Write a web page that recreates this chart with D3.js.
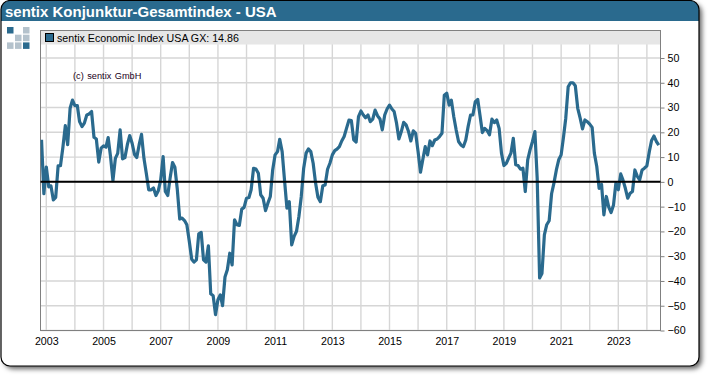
<!DOCTYPE html>
<html>
<head>
<meta charset="utf-8">
<script src="https://cdn.jsdelivr.net/npm/d3@7"></script>
<style>
  html, body { margin: 0; padding: 0; background: #fff; }
  svg { display: block; font-family: "Liberation Sans", Arial, sans-serif; }
</style>
</head>
<body>
<script>
// monthly values, first one is Nov 2002, last one is Jun 2024
const y2002 = [17, -4.8];
const y2003 = [6, -2, -1.6, -7.3, -6.3, 6.5, 6.5, 14, 22.7, 15, 29.7, 33];
const y2004 = [30.8, 30.8, 24.3, 22.3, 23.7, 27, 27.4, 28.4, 18, 17.3, 8, 13.6];
const y2005 = [14.5, 14, 17.9, 10, 0.5, 9.5, 11.5, 21, 9.3, 9.8, 15, 18.7];
const y2006 = [15.6, 11, 9.8, 15, 19.2, 9.5, 3.5, -3.2, -3.2, -2.5, -5.5, -3.6];
const y2007 = [0.8, 10.2, -3.9, -5.5, 1.5, 7.8, 5.9, -3, -15, -14.6, -15.6, -17.3];
const y2008 = [-24, -31.2, -32.4, -31.5, -21, -20.4, -31.5, -32.4, -25.8, -45.2, -46, -53.6];
const y2009 = [-47.6, -45.6, -50, -38.4, -35.5, -28.8, -33.5, -15.3, -17.3, -17.6, -11, -10.3];
const y2010 = [-6.6, -6.3, -3.2, 5.5, 5.2, 3.5, -5.2, -6.6, -11.6, -8.6, -5.9, 4.8];
const y2011 = [10.9, 12.2, 17.2, 12.2, 0.8, -10.6, -8, -25.4, -22, -20, -14, -6];
const y2012 = [5.5, 11.6, 13.3, 12.2, 7.5, -0.5, -6.2, -8, -1.6, -1.3, 5.1, 7.5];
const y2013 = [10.9, 12.6, 13.2, 14.2, 16.5, 18.3, 21.6, 24.9, 24.7, 17, 16.1, 26.3];
const y2014 = [28.6, 27, 25.9, 27, 24.3, 25.3, 29, 26.7, 25.4, 21, 27, 29.4];
const y2015 = [31, 29.4, 28.4, 23.7, 17.3, 20.3, 24, 23, 20.3, 16.5, 20.6, 19.6];
const y2016 = [12.2, 3.9, 8.9, 14.2, 10.9, 16.5, 14.6, 16.9, 17.3, 18.3, 19.6, 35];
const y2017 = [35.8, 31, 33, 26.3, 21, 16.3, 14.9, 14.2, 16.9, 22.3, 27, 27];
const y2018 = [32.4, 33.3, 27, 19.9, 21.6, 20.7, 19, 25.3, 23.9, 25, 21.6, 11.6];
const y2019 = [6.6, 7.5, 9.5, 11.6, 17.6, 6.9, 6.6, 5.1, 5.5, -3.9, 8.9, 12.9];
const y2020 = [16.3, 20.3, 1.5, -38.8, -37, -21.4, -17.3, -15.7, -4.8, -0.5, 4.8, 8.9];
const y2021 = [10.9, 18.3, 25.7, 38.4, 40, 40, 38.8, 29.7, 25.7, 21.4, 25, 24.3];
const y2022 = [23.3, 22, 11.6, 6.2, -2.6, -1, -13.3, -5.9, -10.2, -12.4, -9.3, -0.5];
const y2023 = [-3.2, 3.2, 0.8, -2.6, -6.6, -4.6, -3.9, 4.8, 2.2, 0.8, 4.8, 5.5];
const y2024 = [6.5, 12.2, 16.7, 18.5, 16.3, 14.86];

const yTicks = [-60, -50, -40, -30, -20, -10, 0, 10, 20, 30, 40, 50];
const titleText = "sentix Konjunktur-Gesamtindex - USA";
const legendText = "sentix Economic Index USA GX: 14.86";
const creditText = "(c) sentix GmbH";

const values = [].concat(y2002, y2003, y2004, y2005, y2006, y2007, y2008, y2009, y2010, y2011,
    y2012, y2013, y2014, y2015, y2016, y2017, y2018, y2019, y2020, y2021, y2022, y2023, y2024);

const dates = d3.utcMonth.range(new Date(Date.UTC(2002, 10, 1)), new Date(Date.UTC(2024, 6, 1)));
const data = values.map((v, i) => ({date: dates[i], value: v}));

const outerWidth = 710;
const outerHeight = 376;
const blue = "#2a6a8e";

const plot = {left: 40.5, right: 660.5, top: 30.5, bottom: 330.5};

// card outline, it starts right at the top of the page
const card = {x: 1, y: 0.5, width: 698, height: 365.5, rx: 9};

const xRef = d3.scaleTime()
    .domain([new Date(Date.UTC(2003, 0, 1)), new Date(Date.UTC(2023, 0, 1))])
    .range([46.3, 618.3]);

const xScale = d3.scaleTime()
    .domain([xRef.invert(plot.left), xRef.invert(plot.right)])
    .range([plot.left, plot.right]);

const yScale = d3.scaleLinear()
    .domain([-60, 50])
    .range([plot.bottom, 58]);

const svg = d3.select("body").append("svg")
    .attr("width", outerWidth)
    .attr("height", outerHeight);

const defs = svg.append("defs");
defs.append("filter").attr("id", "shadow")
    .attr("x", "-5%").attr("y", "-5%").attr("width", "110%").attr("height", "110%")
    .append("feDropShadow")
    .attr("dx", 3).attr("dy", 3).attr("stdDeviation", 2.5)
    .attr("flood-color", "#000").attr("flood-opacity", 0.6);
defs.append("clipPath").attr("id", "plot-clip")
    .append("rect")
    .attr("x", plot.left).attr("y", plot.top)
    .attr("width", plot.right - plot.left).attr("height", plot.bottom - plot.top);
defs.append("clipPath").attr("id", "card-clip")
    .append("rect")
    .attr("x", card.x).attr("y", card.y).attr("width", card.width).attr("height", card.height).attr("rx", card.rx);

// the card
svg.append("rect")
    .attr("x", card.x).attr("y", card.y).attr("width", card.width).attr("height", card.height).attr("rx", card.rx)
    .attr("fill", "#fff")
    .attr("filter", "url(#shadow)");

svg.append("rect")
    .attr("clip-path", "url(#card-clip)")
    .attr("x", 0).attr("y", 0).attr("width", 700).attr("height", 21)
    .attr("fill", blue);

svg.append("rect")
    .attr("x", card.x).attr("y", card.y).attr("width", card.width).attr("height", card.height).attr("rx", card.rx)
    .attr("fill", "none")
    .attr("stroke", "#000")
    .attr("stroke-width", 1.2);

svg.append("text")
    .attr("x", 5).attr("y", 17)
    .attr("fill", "#fff")
    .attr("font-size", 15)
    .attr("font-weight", "bold")
    .text(titleText);

// logo squares
const logoCells = [[0, 0, blue], [2, 0, "#b4c2cc"], [1, 1, "#b4c2cc"], [2, 1, "#b4c2cc"],
                   [0, 2, "#b4c2cc"], [1, 2, "#b4c2cc"], [2, 2, blue]];
svg.append("g").selectAll("rect")
    .data(logoCells)
    .join("rect")
    .attr("x", d => 7 + d[0] * 8)
    .attr("y", d => 27 + d[1] * 7.7)
    .attr("width", 6.5).attr("height", 6.5)
    .attr("fill", d => d[2]);

// grid
const years = d3.utcYear.range(new Date(Date.UTC(2003, 0, 1)), new Date(Date.UTC(2025, 0, 1)));

svg.append("g").selectAll("line")
    .data(years)
    .join("line")
    .attr("x1", d => xScale(d)).attr("x2", d => xScale(d))
    .attr("y1", plot.top).attr("y2", plot.bottom)
    .attr("stroke", "#d6d6d6").attr("stroke-width", 1.4);

svg.append("g").selectAll("line")
    .data(yTicks)
    .join("line")
    .attr("x1", plot.left).attr("x2", plot.right)
    .attr("y1", d => yScale(d)).attr("y2", d => yScale(d))
    .attr("stroke", "#d6d6d6").attr("stroke-width", 1.4);

// legend band on top of the grid
svg.append("rect")
    .attr("x", plot.left).attr("y", plot.top)
    .attr("width", plot.right - plot.left).attr("height", 14)
    .attr("fill", "#e6e6e6");

svg.append("rect")
    .attr("x", 45.5).attr("y", 33.5)
    .attr("width", 8).attr("height", 8)
    .attr("fill", blue)
    .attr("stroke", "#000");

svg.append("text")
    .attr("x", 57).attr("y", 42)
    .attr("font-size", 10.67)
    .attr("fill", "#000")
    .text(legendText);

svg.append("text")
    .attr("x", 73).attr("y", 79)
    .attr("font-size", 9.2)
    .attr("fill", "#200020")
    .attr("word-spacing", 1)
    .text(creditText);

// plot frame, left / top / right / bottom
svg.append("rect")
    .attr("x", plot.left).attr("y", plot.top)
    .attr("width", plot.right - plot.left).attr("height", plot.bottom - plot.top)
    .attr("fill", "none")
    .attr("stroke", "#808080");

// axes
const xAxis = d3.axisBottom(xScale)
    .tickValues(years.filter(d => d.getUTCFullYear() % 2 == 1 && d.getUTCFullYear() <= 2023))
    .tickFormat(d3.utcFormat("%Y"))
    .tickSize(0)
    .tickPadding(7);

const yAxis = d3.axisRight(yScale)
    .tickValues(yTicks)
    .tickSize(4)
    .tickPadding(3);

const xG = svg.append("g")
    .attr("transform", `translate(0,${plot.bottom})`)
    .call(xAxis);

const yG = svg.append("g")
    .attr("transform", `translate(${plot.right},0)`)
    .call(yAxis);

xG.select(".domain").remove();
yG.select(".domain").remove();
yG.selectAll("line").attr("stroke", "#808080");
svg.selectAll(".tick text")
    .attr("font-family", "Liberation Sans, Arial, sans-serif")
    .attr("font-size", 10.67)
    .attr("fill", "#000");

// the index line, then the zero line over it
const line = d3.line()
    .x(d => xScale(d.date))
    .y(d => yScale(d.value));

svg.append("path")
    .datum(data)
    .attr("clip-path", "url(#plot-clip)")
    .attr("fill", "none")
    .attr("stroke", blue)
    .attr("stroke-width", 3.2)
    .attr("stroke-linejoin", "round")
    .attr("d", line);

svg.append("line")
    .attr("x1", plot.left).attr("x2", plot.right)
    .attr("y1", yScale(0)).attr("y2", yScale(0))
    .attr("stroke", "#000")
    .attr("stroke-width", 2);
</script>
</body>
</html>
